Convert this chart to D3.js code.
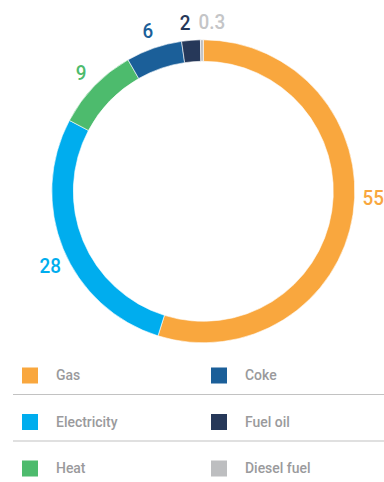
<!DOCTYPE html>
<html>
<head>
<meta charset="utf-8">
<script src="https://cdn.jsdelivr.net/npm/d3@7"></script>
<style>
  html, body { margin: 0; padding: 0; background: #fff; }
  svg { display: block; }
</style>
</head>
<body>
<svg id="chart" width="384" height="482"></svg>
<script>
// energy consumption by source, %
const categories = ['Gas', 'Electricity', 'Heat', 'Coke', 'Fuel oil', 'Diesel fuel'];
const values = [55, 28, 9, 6, 2, 0.3];
const valueLabels = ['55', '28', '9', '6', '2', '0.3'];
const colors = ['#f9a73e', '#00adee', '#4dbb6d', '#1b5f99', '#263859', '#bdbec0'];
const labelColors = ['#f9a73e', '#00adee', '#4dbb6d', '#1b5f99', '#263859', '#c4c5c7'];
// legend order: two columns, three rows
const legendOrder = ['Gas', 'Electricity', 'Heat', 'Coke', 'Fuel oil', 'Diesel fuel'];

const svg = d3.select('#chart');
const cx = 203.3, cy = 191.3, rOuter = 151.5, rInner = 130;

const color = d3.scaleOrdinal().domain(categories).range(colors);
const labelColor = d3.scaleOrdinal().domain(categories).range(labelColors);

const pie = d3.pie().sort(null).value(d => d.value);
const arcs = pie(categories.map((c, i) => ({ cat: c, value: values[i], label: valueLabels[i] })));
const arc = d3.arc().innerRadius(rInner).outerRadius(rOuter);

const g = svg.append('g').attr('transform', `translate(${cx},${cy})`);

g.selectAll('path').data(arcs).enter().append('path')
  .attr('d', arc)
  .attr('fill', d => color(d.data.cat))
  .attr('stroke', '#fff')
  .attr('stroke-width', 0.6);

// labels sit on a ring just outside the donut; a few are nudged (radians) to avoid clashes
const nudge = { 'Gas': -0.115, 'Diesel fuel': 0.06, 'Fuel oil': -0.025, 'Electricity': -0.06 };
const labelR = 170;
g.selectAll('text.val').data(arcs).enter().append('text')
  .attr('class', 'val')
  .attr('transform', d => {
    const a = (d.startAngle + d.endAngle) / 2 + (nudge[d.data.cat] || 0);
    return `translate(${Math.sin(a) * labelR},${-Math.cos(a) * labelR}) scale(0.9,1)`;
  })
  .attr('text-anchor', 'middle')
  .attr('dominant-baseline', 'central')
  .attr('fill', d => labelColor(d.data.cat))
  .attr('font-family', 'Roboto, "Noto Sans", sans-serif')
  .attr('font-weight', 500)
  .attr('font-size', '21px')
  .text(d => d.data.label);

// legend
const colX = d3.scaleOrdinal().domain([0, 1]).range([22, 211]);
const rowY = d3.scaleLinear().domain([0, 1]).range([367.5, 414]);

const legend = svg.append('g');
[0, 1].forEach(r => {
  legend.append('line')
    .attr('x1', 13).attr('x2', 384)
    .attr('y1', rowY(r) + 27).attr('y2', rowY(r) + 27)
    .attr('stroke', '#c2c2c2').attr('stroke-width', 1.2);
});

const items = legend.selectAll('g.item').data(legendOrder).enter().append('g')
  .attr('class', 'item')
  .attr('transform', (d, i) => `translate(${colX(Math.floor(i / 3))},${rowY(i % 3)})`);

items.append('rect')
  .attr('width', 16).attr('height', 16)
  .attr('fill', d => color(d));

items.append('text')
  .attr('transform', 'translate(34,12.5) scale(0.9,1)')
  .attr('fill', '#9a9a9c')
  .attr('font-family', 'Roboto, "Noto Sans", sans-serif')
  .attr('font-weight', 500)
  .attr('font-size', '15.5px')
  .text(d => d);
</script>
</body>
</html>
